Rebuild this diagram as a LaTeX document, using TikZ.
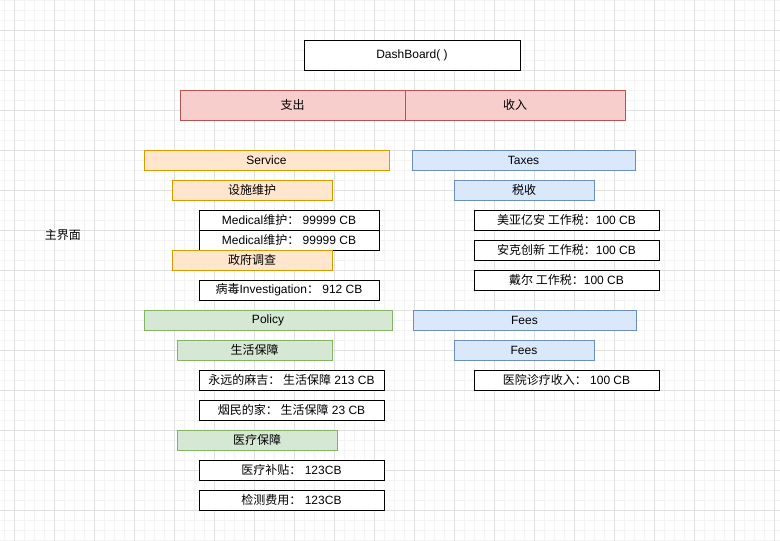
\documentclass[tikz,border=0pt]{standalone}
\usepackage{fontspec}
\setmainfont{Liberation Sans}
\newfontfamily\cjk{Noto Sans CJK SC}
\newcommand{\zh}[1]{{\cjk #1}}
\definecolor{gridminor}{HTML}{F3F3F3}
\definecolor{gridmajor}{HTML}{E0E0E0}
\definecolor{redfill}{HTML}{F8CECC}
\definecolor{redline}{HTML}{B85450}
\definecolor{orfill}{HTML}{FFE6CC}
\definecolor{orline}{HTML}{D79B00}
\definecolor{grfill}{HTML}{D5E8D4}
\definecolor{grline}{HTML}{82B366}
\definecolor{blfill}{HTML}{DAE8FC}
\definecolor{blline}{HTML}{6C8EBF}
\tikzset{
  base/.style={inner sep=0pt, outer sep=0pt, line width=1pt, font=\fontsize{12}{14}\selectfont, text=black},
  plainbox/.style={base, draw=black, fill=white, minimum height=20pt},
  redbox/.style={base, draw=redline, fill=redfill, minimum height=30pt},
  orbox/.style={base, draw=orline, fill=orfill, minimum height=20pt},
  grbox/.style={base, draw=grline, fill=grfill, minimum height=20pt},
  blbox/.style={base, draw=blline, fill=blfill, minimum height=20pt},
}
\begin{document}
\begin{tikzpicture}[x=1pt,y=-1pt]
\useasboundingbox (0,0) rectangle (780,541);
\fill[white] (0,0) rectangle (780,541);
% grid
\foreach \x in {4,14,...,780} \draw[gridminor, line width=0.8pt] (\x,0) -- (\x,541);
\foreach \y in {0,10,...,541} \draw[gridminor, line width=0.8pt] (0,\y) -- (780,\y);
\foreach \x in {14,54,...,780} \draw[gridmajor, line width=0.8pt] (\x,0) -- (\x,541);
\foreach \y in {30,70,...,541} \draw[gridmajor, line width=0.8pt] (0,\y) -- (780,\y);

\node[plainbox, minimum width=216pt, minimum height=30pt] (dash) at (412,55) {DashBoard( )};
\node[redbox, minimum width=225pt] (zc) at (292.5,105) {\zh{支出}};
\node[redbox, minimum width=220pt] (sr) at (515,105) {\zh{收入}};

\node[orbox, minimum width=245pt] (service) at (266.5,160) {Service};
\node[orbox, minimum width=160pt] (sswh) at (252,190) {\zh{设施维护}};
\node[plainbox, minimum width=180pt] (med1) at (289,220) {Medical\zh{维护：} 99999 CB};
\node[plainbox, minimum width=180pt] (med2) at (289,240) {Medical\zh{维护：} 99999 CB};
\node[orbox, minimum width=160pt] (zfdc) at (252,260) {\zh{政府调查}};
\node[plainbox, minimum width=180pt] (bd) at (289,290) {\zh{病毒}Investigation\zh{：} 912 CB};

\node[blbox, minimum width=223pt] (taxes) at (523.5,160) {Taxes};
\node[blbox, minimum width=140pt] (ss) at (524,190) {\zh{税收}};
\node[plainbox, minimum width=185pt] (mya) at (566.5,220) {\zh{美亚亿安 工作税：}100 CB};
\node[plainbox, minimum width=185pt] (akc) at (566.5,250) {\zh{安克创新 工作税：}100 CB};
\node[plainbox, minimum width=185pt] (de) at (566.5,280) {\zh{戴尔 工作税：}100 CB};

\node[grbox, minimum width=248pt] (policy) at (268,320) {Policy};
\node[grbox, minimum width=155pt] (shbz) at (254.5,350) {\zh{生活保障}};
\node[plainbox, minimum width=185pt] (yymj) at (291.5,380) {\zh{永远的麻吉： 生活保障} 213 CB};
\node[plainbox, minimum width=185pt] (ymdj) at (291.5,410) {\zh{烟民的家： 生活保障} 23 CB};
\node[grbox, minimum width=160pt] (ylbz) at (257,440) {\zh{医疗保障}};
\node[plainbox, minimum width=185pt] (ylbt) at (291.5,470) {\zh{医疗补贴：} 123CB};
\node[plainbox, minimum width=185pt] (jcfy) at (291.5,500) {\zh{检测费用：} 123CB};

\node[blbox, minimum width=223pt] (fees) at (524.5,320) {Fees};
\node[blbox, minimum width=140pt] (fees2) at (524,350) {Fees};
\node[plainbox, minimum width=185pt] (yyzl) at (566.5,380) {\zh{医院诊疗收入：} 100 CB};

\node[base] (zjm) at (63,235) {\zh{主界面}};
\end{tikzpicture}
\end{document}
